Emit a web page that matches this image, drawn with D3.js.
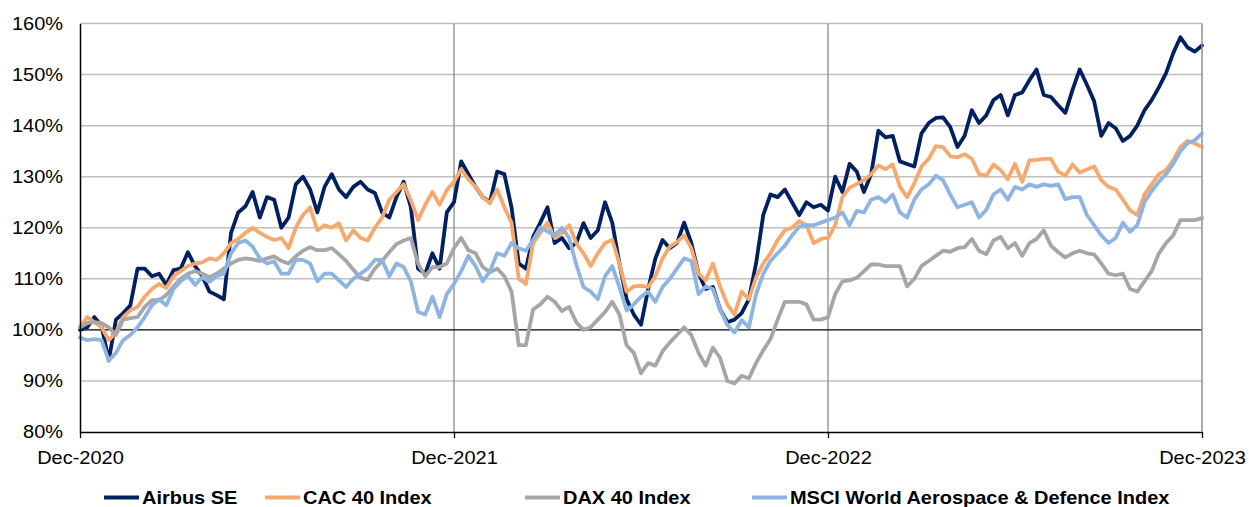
<!DOCTYPE html>
<html><head><meta charset="utf-8">
<script src="https://cdn.jsdelivr.net/npm/d3@7/dist/d3.min.js"></script>
<style>
html,body{margin:0;padding:0;background:#fff;}
svg{display:block;font-family:"Liberation Sans",Arial,sans-serif;}
</style></head>
<body><svg id="c" width="1249" height="507"></svg>
<script>
const seriesNames = ["Airbus SE","CAC 40 Index","DAX 40 Index","MSCI World Aerospace & Defence Index"];
const seriesColors = ["#002060","#F7A86C","#A6A6A6","#8DB4E2"];
const xTickLabels = ["Dec-2020","Dec-2021","Dec-2022","Dec-2023"];
const xTickIndex = [0,52,104,156];
const yTicks = [80,90,100,110,120,130,140,150,160];

const airbus = [100,100.5,102.5,100.8,94,102,103.3,104.8,112,112,110.5,111,108.8,111.7,112,115.2,112.5,110.5,107.5,106.8,
106,119,123,124.2,127,122,126,125.5,120,122,128.5,130,127.5,123,128,130.5,127.5,126,128,129,
127.5,126.8,123,122,126,129,124,112,111,115,112,123,125,133,130.5,128,126,125,131,130.5,
124,113,112,118.2,121,124,117,118,116,117,120.9,118,119.5,125,121,113,106,103,101,108,
114,117.6,116,117,121,117,111,108,108.4,104,101.5,102,103.3,106,113,122.5,126.5,126,127.5,125,
122.5,125,124,124.5,123.4,130,127,132.5,131,127,130.5,139,137.7,138,133,132.5,132,138.5,140.5,141.5,
141.6,139.7,135.8,138,143,140.5,142,145,146,142,146,146.5,148.9,151,146,145.6,144,142.5,147,151,
148,144.8,138,140.5,139.5,137,138,140,143,145,147.5,150.3,154.2,157.3,155.3,154.5,155.7];

const cac = [100.5,102.5,101.5,100.5,98,99.5,102.5,103.8,104.5,106.5,108,109,108.2,110.5,111.5,112.5,113,113.2,114,113.7,
115,117,117.8,119,120,119,118.2,117.6,118,116,120,122.5,124,119.5,120.5,120,120.9,117.5,119.5,118,
117.5,120,122,125.5,127,128.5,125.4,121.5,124.5,127,124.5,127.4,129,131.5,129.5,128,126,124.8,127.5,124,
121,110,109,117,119,121,118,119,120.5,117,115,112.5,115,117,117.6,113,107.5,108.5,108.6,108.4,
110.5,114,116.3,117.2,118.5,116,111,109.7,113,108.5,105,103,107.5,106,110.3,113,115,117.6,119.5,120,
121.3,120.5,117,117.8,118,120.5,126,127.8,128.6,129.3,130.5,132.2,131.5,132.4,128,126,128.7,132,133.5,136,
135.8,134,133.8,134.4,133.5,130.5,130.2,132.4,131.3,129.5,132.5,129,133.2,133.3,133.5,133.5,131,130.2,132.4,130.8,
131.4,132,129.3,128,127.5,125.5,123.4,122.5,126.5,128.5,130.5,131.3,133.2,135.8,137,136.5,135.8];

const dax = [100.5,101.3,101.5,101.3,100.5,99,102,102.3,102.5,104.5,105.8,105.8,106.8,108.5,110,111,111.5,111,110.3,111,
112,113,113.7,114,113.8,113.5,114,114.4,113.5,113,114.4,115.5,116.2,115.6,115.6,116,114.8,113.5,111.8,110.2,
109.8,112,113.5,115.2,116.8,117.5,118,113,110.5,112.3,112.3,113,116,118,115.6,115,112.3,111.3,112,110.5,
107.5,97,97,104,105,106.5,105.5,103.7,104.5,101.5,100,100.5,102,103.5,105.5,103,97,95.5,91.5,93.5,
93,95.8,97.5,99,100.5,99,95.5,93,96.5,94.5,90,89.5,91,90.5,93.5,96,98.2,102,105.5,105.5,
105.5,105,102,102,102.5,107,109.5,109.7,110.2,111.5,112.8,112.8,112.5,112.5,112.5,108.5,110,112.5,113.5,114.5,
115.5,115.3,116,116.2,117.8,115.5,114.8,117.5,118.2,116,117,114.5,117,117.8,119.5,116.5,115.2,114.2,115,115.5,
115,114.8,113,111,110.7,111,108,107.5,109.5,111.5,115,117,118.5,121.5,121.5,121.5,121.9];

const msci = [98.5,98,98.2,98,94,95.5,98,99,100.5,102.5,104.8,106,104.8,108,109.5,110.6,108.8,110.3,109.4,110.5,
111,115,117,117.5,116.3,114,113,113.4,111,111,113.7,113.7,113,109.5,111,111,109.7,108.4,110,111,
112,113.7,113.7,110.5,113,112.3,109.5,103.5,103,106.5,102.5,107,109,111.5,114.5,112.5,109.5,111.5,115,114.5,
117,116,115.5,117.6,120,119.3,118.5,120,118,112.8,108.4,107.5,106,110.5,112.5,108.4,103.8,105,106.5,107.5,
105.5,108.4,110,112,114,113.5,107,108.5,108,104,101,99.5,101.9,100.5,107,111,113.5,115,116.5,118.5,
120.2,120.5,120.5,121,121.5,122,123,120.5,123.3,123,125.5,126,125,126.5,123,122,125.5,127.5,128.5,130.2,
129.3,126.5,124,124.5,125,122,123.5,126.5,127.5,125.5,128,127.5,128.5,128,128.5,128.2,128.5,125.6,126,126,
122.5,120.5,118.5,117,118,121,119.2,120.5,125,127.2,129,130.5,132.5,135,136.6,137.1,138.5];

const dates = airbus.map((_, i) => d3.timeDay.offset(new Date(2020, 11, 31), 7 * i));
const allSeries = [airbus, cac, dax, msci];

const svg = d3.select("#c");
const pLeft = 80, pRight = 1202, pTop = 23.5, pBottom = 432;
const sx = 1.08;   // horizontal text stretch seen in the reference
const sxL = 1.11;  // legend text stretch

const x = d3.scaleTime().domain([dates[0], dates[dates.length - 1]]).range([pLeft, pRight]);
const y = d3.scaleLinear().domain([80, 160]).range([pBottom, pTop]);

// horizontal gridlines
svg.append("g").selectAll("line").data(yTicks.filter(v => v !== 80 && v !== 100)).join("line")
  .attr("x1", pLeft).attr("x2", pRight).attr("y1", d => y(d)).attr("y2", d => y(d))
  .attr("stroke", "#BFBFBF").attr("stroke-width", 1.5);

// vertical gridlines
svg.append("g").selectAll("line").data(xTickIndex.slice(1)).join("line")
  .attr("x1", d => x(dates[d])).attr("x2", d => x(dates[d]))
  .attr("y1", pTop).attr("y2", pBottom)
  .attr("stroke", "#8C8C8C").attr("stroke-width", 1.3);

// 100% line
svg.append("line").attr("x1", pLeft).attr("x2", pRight).attr("y1", y(100)).attr("y2", y(100))
  .attr("stroke", "#000").attr("stroke-width", 1.3);

// series lines
const line = d3.line().x((d, i) => x(dates[i])).y(d => y(d)).curve(d3.curveLinear);
svg.append("g").selectAll("path").data(allSeries).join("path")
  .attr("d", d => line(d)).attr("fill", "none")
  .attr("stroke", (d, i) => seriesColors[i]).attr("stroke-width", 3.8)
  .attr("stroke-linejoin", "round").attr("stroke-linecap", "round");

// y axis
const yAxis = svg.append("g").attr("transform", `translate(${pLeft},0)`)
  .call(d3.axisLeft(y).tickValues(yTicks).tickFormat(d => d + "%").tickSize(0).tickPadding(17));
yAxis.select(".domain").attr("stroke", "#000").attr("stroke-width", 1.5);
yAxis.selectAll("text").attr("font-size", 18.5).attr("fill", "#000")
  .attr("font-family", '"Liberation Sans", Arial, sans-serif')
  .attr("x", -17 / sx).attr("transform", `scale(${sx},1)`);

// x axis
const xAxis = svg.append("g").attr("transform", `translate(0,${pBottom})`)
  .call(d3.axisBottom(x).tickValues(xTickIndex.map(i => dates[i]))
    .tickFormat((d, i) => xTickLabels[i]).tickSize(6).tickPadding(13).tickSizeOuter(0));
xAxis.select(".domain").attr("stroke", "#000").attr("stroke-width", 1.5);
xAxis.selectAll(".tick line").attr("stroke", "#000").attr("stroke-width", 1.3);
xAxis.selectAll("text").attr("font-size", 18.5).attr("fill", "#000")
  .attr("font-family", '"Liberation Sans", Arial, sans-serif')
  .attr("transform", `scale(${sx},1)`);

// right border
svg.append("line").attr("x1", pRight).attr("x2", pRight).attr("y1", pTop).attr("y2", pBottom)
  .attr("stroke", "#A6A6A6").attr("stroke-width", 1.3);

// legend
const legendX = [104, 265, 525, 752];
const legendY = 497.5;
const lg = svg.append("g").selectAll("g").data(seriesNames).join("g")
  .attr("transform", (d, i) => `translate(${legendX[i]},${legendY})`);
lg.append("line").attr("x1", 0).attr("x2", 35).attr("y1", 0).attr("y2", 0)
  .attr("stroke", (d, i) => seriesColors[i]).attr("stroke-width", 4);
lg.append("text").attr("x", 38 / sxL).attr("y", 0).attr("dy", "0.36em")
  .attr("transform", `scale(${sxL},1)`)
  .attr("font-size", 18).attr("font-weight", "bold").attr("fill", "#000")
  .text(d => d);
</script></body></html>
